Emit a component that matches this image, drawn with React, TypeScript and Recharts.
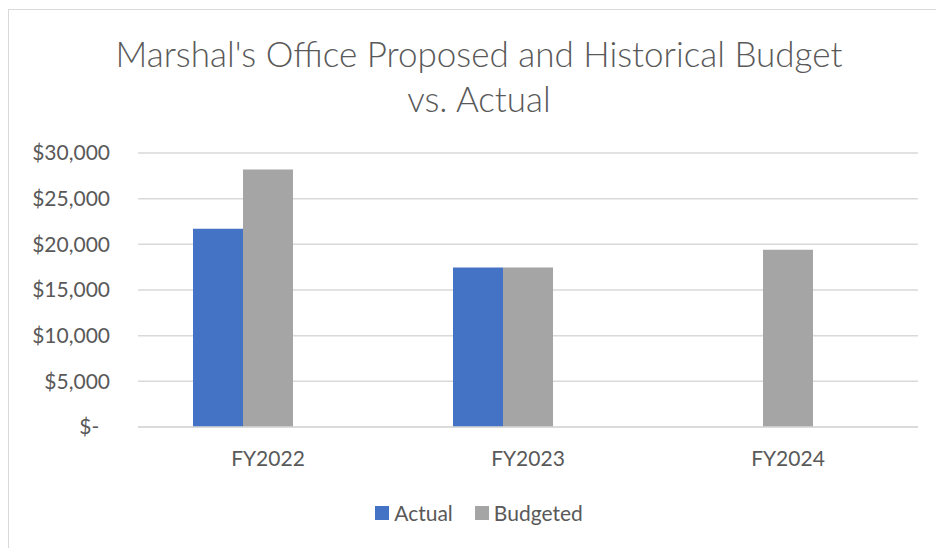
import React from "react";
import { BarChart, Bar, XAxis, YAxis, CartesianGrid } from "recharts";

const years = ["FY2022", "FY2023", "FY2024"];
const actual: (number | null)[] = [21700, 17450, null];
const budgeted: (number | null)[] = [28200, 17450, 19400];
const proposed: (number | null)[] = [null, null, null];
const yTicks = [0, 5000, 10000, 15000, 20000, 25000, 30000];
const legendItems = ["Actual", "Budgeted"];

const data = years.map((y, i) => ({
  year: y,
  Actual: actual[i],
  Budgeted: budgeted[i],
  Proposed: proposed[i],
}));

const FONT = "Lato, 'Open Sans', sans-serif";
const TEXT = "#595959";
const BLUE = "#4472C4";
const GRAY = "#A5A5A5";
const legendColors = [BLUE, GRAY];

const fmt = (v: number) =>
  v === 0 ? "$-\u00a0\u00a0" : "$" + v.toLocaleString("en-US");

export default function App() {
  return (
    <div
      style={{
        position: "absolute",
        left: 0,
        top: 0,
        width: 936,
        height: 548,
        overflow: "hidden",
        background: "#fff",
      }}
    >
      <div
        style={{
          position: "absolute",
          left: 8,
          top: 9,
          width: 960,
          height: 560,
          border: "1px solid #d9d9d9",
          boxSizing: "border-box",
        }}
      />
      <div
        style={{
          position: "absolute",
          left: 8,
          width: 942,
          top: 31,
          textAlign: "center",
          fontFamily: FONT,
          fontWeight: 300,
          fontSize: 35,
          lineHeight: "45px",
          color: TEXT,
        }}
      >
        Marshal's Office Proposed and Historical Budget
        <br />
        vs. Actual
      </div>
      <div style={{ position: "absolute", left: 0, top: 0 }}>
        <BarChart
          width={936}
          height={548}
          data={data}
          margin={{ top: 153, right: 18, bottom: 91, left: 0 }}
          barCategoryGap={55}
          barGap={0}
        >
          <CartesianGrid vertical={false} stroke="#d9d9d9" strokeWidth={1.5} />
          <XAxis
            dataKey="year"
            height={30}
            axisLine={{ stroke: "#d9d9d9", strokeWidth: 1.5 }}
            tickLine={false}
            tickSize={0}
            tickMargin={24}
            tick={{ fill: TEXT, fontSize: 21, fontFamily: FONT }}
          />
          <YAxis
            width={138}
            domain={[0, 30000]}
            ticks={yTicks}
            tickFormatter={fmt}
            axisLine={false}
            tickLine={false}
            tickSize={0}
            tickMargin={28}
            tick={{ fill: TEXT, fontSize: 21, fontFamily: FONT }}
          />
          <Bar dataKey="Actual" fill={BLUE} isAnimationActive={false} />
          <Bar dataKey="Budgeted" fill={GRAY} isAnimationActive={false} />
          <Bar dataKey="Proposed" fill="#FFC000" legendType="none" isAnimationActive={false} />
        </BarChart>
      </div>
      <div
        style={{
          position: "absolute",
          left: 8,
          width: 942,
          top: 499,
          display: "flex",
          justifyContent: "center",
          alignItems: "center",
          fontFamily: FONT,
          fontSize: 21,
          lineHeight: "28px",
          color: TEXT,
        }}
      >
        {legendItems.map((name, i) => (
          <div
            key={name}
            style={{ display: "flex", alignItems: "center", marginLeft: i ? 22 : 0 }}
          >
            <span
              style={{
                display: "inline-block",
                width: 14,
                height: 14,
                background: legendColors[i],
                marginRight: 5,
              }}
            />
            <span>{name}</span>
          </div>
        ))}
      </div>
    </div>
  );
}
